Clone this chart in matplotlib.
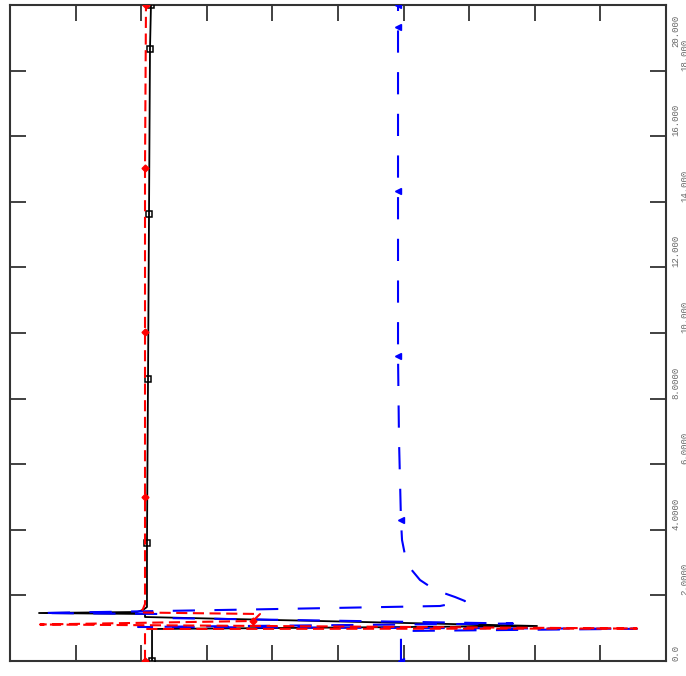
import matplotlib
matplotlib.use("Agg")
import matplotlib.pyplot as plt
from matplotlib.transforms import blended_transform_factory, offset_copy

plt.rcParams['lines.scale_dashes'] = False

# Curve 1 (black, solid, open squares)
black_x = [2.165, 2.165, 8.034, 2.058, 2.058, 0.442, 1.936, 2.027, 2.088, 2.088,
           2.088, 2.104, 2.119, 2.134, 2.149]
black_y = [0.0, 0.976, 1.067, 1.341, 1.433, 1.463, 1.494, 1.555, 1.646, 2.470,
           3.598, 8.598, 13.628, 18.659, 20.0]
black_marks = [0, 10, 11, 12, 13, 14]

# Curve 2 (red, dashed, diamonds)
red_x = [2.058, 2.058, 9.558, 0.457, 3.704, 3.811, 1.982, 2.027, 2.058, 2.058,
         2.058, 2.058, 2.073]
red_y = [0.0, 0.976, 0.991, 1.113, 1.220, 1.433, 1.479, 1.585, 1.738, 5.0,
         10.03, 15.03, 20.0]
red_marks = [0, 4, 9, 10, 11, 12]

# Curve 3 (blue, long dashes, triangles)
blue_x = [5.960, 5.960, 9.558, 1.951, 7.668, 2.332, 2.332, 0.457, 3.659, 6.555,
          6.936, 6.784, 6.479, 6.250, 6.098, 6.021, 5.976, 5.960, 5.930, 5.915,
          5.915, 5.915, 5.915]
blue_y = [0.0, 0.915, 0.982, 1.037, 1.143, 1.311, 1.433, 1.463, 1.570, 1.677,
          1.829, 1.951, 2.165, 2.470, 2.835, 3.232, 3.689, 4.299, 6.738, 9.299,
          14.329, 19.329, 20.0]
blue_marks = [0, 17, 19, 20, 21, 22]

x_ticks = [1, 2, 3, 4, 5, 6, 7, 8, 9]
y_ticks = [0, 2, 4, 6, 8, 10, 12, 14, 16, 18, 20]
y_tick_labels = ["0.0", "2.0000", "4.0000", "6.0000", "8.0000", "10.000",
                 "12.000", "14.000", "16.000", "18.000", "20.000"]

fig = plt.figure(figsize=(6.86, 6.76), dpi=100)
ax = fig.add_axes([10 / 686, 15 / 676, 656 / 686, 656 / 676])
ax.set_xlim(0, 10)
ax.set_ylim(0, 20)

ax.plot(black_x, black_y, color="black", lw=1.3, marker="s", markersize=5,
        markerfacecolor="none", markeredgecolor="black", markeredgewidth=1.1,
        markevery=black_marks, zorder=3)
ax.plot(blue_x, blue_y, color="#0000ff", lw=1.5, dashes=(16, 14), marker="<",
        markersize=5, markerfacecolor="#0000ff", markeredgecolor="#0000ff",
        markevery=blue_marks, zorder=4)
ax.plot(red_x, red_y, color="#ff0000", lw=1.5, dashes=(8, 4), marker="D",
        markersize=3.5, markerfacecolor="#ff0000", markeredgecolor="#ff0000",
        markevery=red_marks, zorder=5)

frame_col = "#333333"
for s in ax.spines.values():
    s.set_color(frame_col)
    s.set_linewidth(1.5)

ax.set_xticks(x_ticks)
ax.set_yticks(y_ticks)
ax.tick_params(axis="both", which="both", direction="in", length=11.5,
               width=1.3, color=frame_col, top=True, bottom=True, left=True,
               right=True, labelbottom=False, labelleft=False,
               labelright=False, labeltop=False)

# Right-hand value labels, rotated and staggered in two columns
trans = blended_transform_factory(fig.transFigure, ax.transData)
for i, (v, lab) in enumerate(zip(y_ticks, y_tick_labels)):
    xcol = (676 if i % 2 == 0 else 685) / 686
    dy = 0
    ha = "left"
    if v == y_ticks[-1]:
        ha = "right"
        dy = -7
    t = offset_copy(trans, fig=fig, x=0, y=dy, units="points")
    ax.text(xcol, v, lab, transform=t, rotation=90, rotation_mode="anchor",
            ha=ha, va="center", family="Liberation Mono", fontsize=6.5,
            color="#666666", clip_on=False)

fig.savefig("out.png", dpi=100)
